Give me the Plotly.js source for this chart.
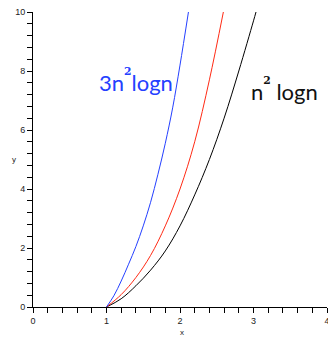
<!DOCTYPE html>
<html>
<head>
<meta charset="utf-8">
<script src="https://cdn.plot.ly/plotly-3.0.1.min.js"></script>
<style>
  html, body { margin: 0; padding: 0; background: #fff; }
  #chart { width: 328px; height: 337px; }
</style>
</head>
<body>
<div id="chart"></div>
<script>
// values
const blueX = [1.0, 1.1, 1.2, 1.3, 1.4, 1.5, 1.6, 1.7, 1.8, 1.9, 2.0, 2.115];
const blueY = [0, 0.38, 0.88, 1.45, 2.05, 2.75, 3.55, 4.5, 5.55, 6.75, 8.2, 10.0];

const redX = [1.0, 1.2, 1.4, 1.6, 1.8, 2.0, 2.2, 2.4, 2.59];
const redY = [0, 0.42, 1.0, 1.75, 2.75, 4.0, 5.6, 7.7, 10.0];

const blackX = [1.0, 1.2, 1.4, 1.6, 1.8, 2.0, 2.2, 2.4, 2.6, 2.8, 3.0, 3.034];
const blackY = [0, 0.28, 0.72, 1.25, 1.9, 2.75, 3.8, 5.0, 6.4, 8.0, 9.7, 10.0];

const xTicks = [0, 1, 2, 3, 4];
const yTicks = [0, 2, 4, 6, 8, 10];

const tickFont = { family: "Liberation Sans, Arial, sans-serif", size: 9, color: "#222" };

function curve(x, y, color) {
  return {
    type: "scatter",
    mode: "lines",
    x: x,
    y: y,
    line: { color: color, width: 1, shape: "spline" },
    hoverinfo: "skip",
    showlegend: false,
  };
}

const traces = [
  curve(blackX, blackY, "#000000"),
  curve(redX, redY, "#ff2a14"),
  curve(blueX, blueY, "#2440ff"),
];

const axisBase = {
  showline: true,
  linecolor: "#000",
  linewidth: 1,
  showgrid: false,
  zeroline: false,
  ticks: "outside",
  ticklen: 5,
  tickwidth: 1,
  tickcolor: "#000",
  tickfont: tickFont,
  ticklabeloverflow: "allow",
  fixedrange: true,
};

const labelFont = "Lato, Open Sans, sans-serif";
// raised small bold "2", as in the picture
const sup2 = "<sup><sup><span style=\"font-family:DejaVu Serif;font-weight:bold\">2</span></sup></sup>";

const layout = {
  width: 328,
  height: 337,
  margin: { l: 33, r: 1, t: 12, b: 30 },
  paper_bgcolor: "#fff",
  plot_bgcolor: "#fff",
  xaxis: Object.assign({}, axisBase, {
    range: [0, 4],
    tickvals: xTicks,
    ticktext: xTicks.map(String),
    minor: { dtick: 0.2, ticks: "outside", ticklen: 5, tickcolor: "#000", showgrid: false },
  }),
  yaxis: Object.assign({}, axisBase, {
    range: [0, 10],
    tickvals: yTicks,
    ticktext: yTicks.map(String),
    minor: { dtick: 0.4, ticks: "outside", ticklen: 5, tickcolor: "#000", showgrid: false },
  }),
  annotations: [
    {
      xref: "x", yref: "y", x: 1.4, y: 7.69,
      text: "3n" + sup2 + "logn",
      showarrow: false,
      font: { family: labelFont, size: 22, color: "#2440ff" },
    },
    {
      xref: "x", yref: "y", x: 3.415, y: 7.36,
      text: "n" + sup2 + " logn",
      showarrow: false,
      font: { family: labelFont, size: 22, color: "#111" },
    },
    {
      xref: "paper", yref: "paper", x: -0.065, y: 0.5,
      xanchor: "center", yanchor: "middle",
      text: "y", showarrow: false,
      font: { family: "Liberation Sans, Arial, sans-serif", size: 8, color: "#222" },
    },
    {
      xref: "paper", yref: "paper", x: 0.507, y: -0.087,
      xanchor: "center", yanchor: "middle",
      text: "x", showarrow: false,
      font: { family: "Liberation Sans, Arial, sans-serif", size: 8, color: "#222" },
    },
  ],
};

Plotly.newPlot("chart", traces, layout, { staticPlot: true, displayModeBar: false });
</script>
</body>
</html>
